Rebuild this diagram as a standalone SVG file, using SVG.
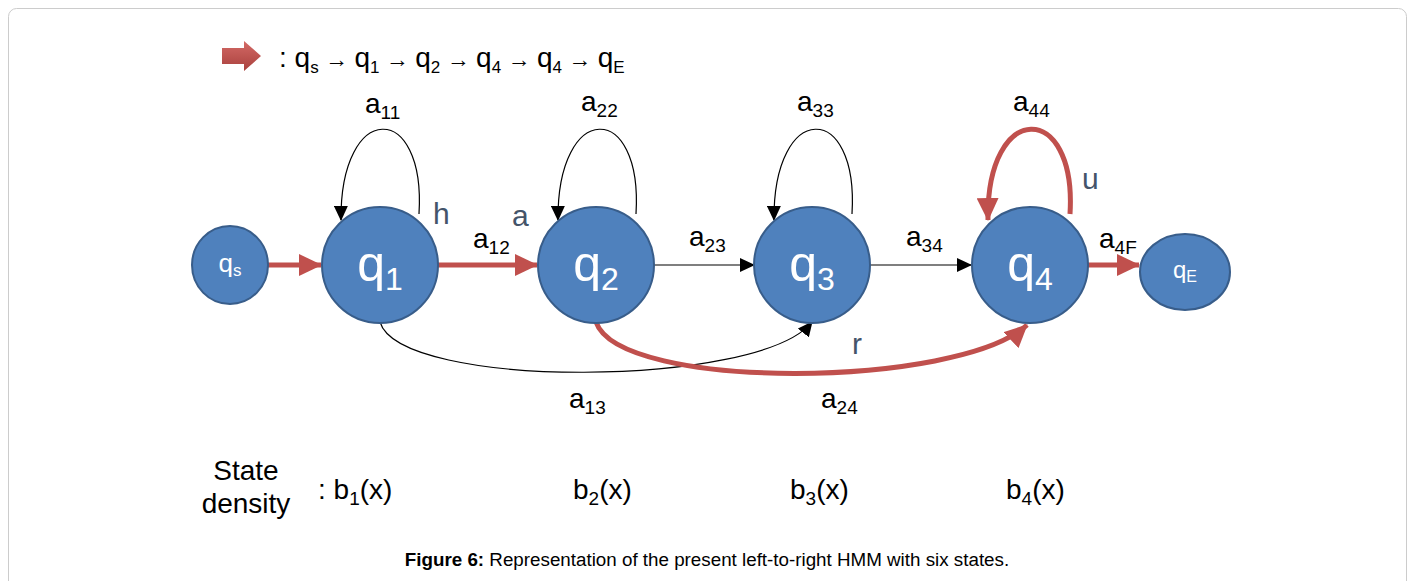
<svg xmlns="http://www.w3.org/2000/svg" width="1415" height="581" viewBox="0 0 1415 581">
<style>
.node{fill:#4F81BD;stroke:#385D8A;stroke-width:2}
.nl{fill:#fff;font-family:"Liberation Sans",Arial,sans-serif;text-anchor:middle}
.lab{fill:#000;font-family:"Liberation Sans",Arial,sans-serif;font-size:28px}
.let{fill:#44546A;font-family:"Liberation Sans",Arial,sans-serif;font-size:30px}
.thin{fill:none;stroke:#000;stroke-width:1.2}
.red{fill:none;stroke:#C0504D;stroke-width:5}
.ar{font-size:23px}
</style>
<defs>
<marker id="ab" markerUnits="userSpaceOnUse" markerWidth="16" markerHeight="14" refX="14" refY="7" orient="auto"><path d="M0,0 L15,7 L0,14 Z" fill="#000"/></marker>
<marker id="ar" markerUnits="userSpaceOnUse" markerWidth="24" markerHeight="22" refX="22" refY="11" orient="auto"><path d="M0,0 L23,11 L0,22 Z" fill="#C0504D"/></marker>
<linearGradient id="rg" x1="0" y1="0" x2="0" y2="1"><stop offset="0" stop-color="#D46A66"/><stop offset="1" stop-color="#A8403D"/></linearGradient>
</defs>
<rect x="8.5" y="8.5" width="1398" height="600" rx="8" fill="#fff" stroke="#CCCCCC" stroke-width="1"/>
<g id="legend">
<path d="M222,48 H244 V41 L261,56 L244,71 V64 H222 Z" fill="url(#rg)"/>
<text class="lab" x="279" y="67" font-size="26">: q<tspan font-size="17" dy="6">s</tspan><tspan dy="-6" class="ar"> → </tspan><tspan>q</tspan><tspan font-size="17" dy="6">1</tspan><tspan dy="-6" class="ar"> → </tspan><tspan>q</tspan><tspan font-size="17" dy="6">2</tspan><tspan dy="-6" class="ar"> → </tspan><tspan>q</tspan><tspan font-size="17" dy="6">4</tspan><tspan dy="-6" class="ar"> → </tspan><tspan>q</tspan><tspan font-size="17" dy="6">4</tspan><tspan dy="-6" class="ar"> → </tspan><tspan>q</tspan><tspan font-size="17" dy="6">E</tspan></text>
</g>
<g id="connectors">
<path class="red" d="M268,265 H321" marker-end="url(#ar)"/>
<path class="red" d="M438,265 H537" marker-end="url(#ar)"/>
<path class="thin" d="M654,265 H754" marker-end="url(#ab)"/>
<path class="thin" d="M870,265 H971" marker-end="url(#ab)"/>
<path class="red" d="M1088,265 H1139" marker-end="url(#ar)"/>
<path class="thin" d="M419,214 C426,100 340,100 341,220" marker-end="url(#ab)"/>
<path class="thin" d="M636,214 C643,100 557,100 558,220" marker-end="url(#ab)"/>
<path class="thin" d="M852,214 C859,100 773,100 774,220" marker-end="url(#ab)"/>
<path class="red" d="M1070,214 C1077,100 986,100 988,220" marker-end="url(#ar)"/>
<path class="thin" d="M380,322 C400,390 760,388 812,322" marker-end="url(#ab)"/>
<path class="red" d="M596,322 C620,392 960,388 1027,325" marker-end="url(#ar)"/>
</g>
<g id="qs"><ellipse class="node" cx="230" cy="265" rx="38" ry="39"/><text class="nl" x="230" y="272" font-size="26">q<tspan font-size="17" dy="4">s</tspan></text></g>
<g id="q1"><circle class="node" cx="380" cy="265" r="58"/><text class="nl" x="380" y="281" font-size="50">q<tspan font-size="32" dy="9">1</tspan></text></g>
<g id="q2"><circle class="node" cx="596" cy="265" r="58"/><text class="nl" x="596" y="281" font-size="50">q<tspan font-size="32" dy="9">2</tspan></text></g>
<g id="q3"><circle class="node" cx="812" cy="265" r="58"/><text class="nl" x="812" y="281" font-size="50">q<tspan font-size="32" dy="9">3</tspan></text></g>
<g id="q4"><circle class="node" cx="1030" cy="265" r="58"/><text class="nl" x="1030" y="281" font-size="50">q<tspan font-size="32" dy="9">4</tspan></text></g>
<g id="qE"><ellipse class="node" cx="1185" cy="272" rx="45" ry="38"/><text class="nl" x="1185" y="278" font-size="24">q<tspan font-size="16" dy="4">E</tspan></text></g>
<g id="labels">
<text class="lab" x="365" y="113">a<tspan font-size="19" dy="6">11</tspan></text>
<text class="lab" x="581" y="111">a<tspan font-size="19" dy="6">22</tspan></text>
<text class="lab" x="797" y="111">a<tspan font-size="19" dy="6">33</tspan></text>
<text class="lab" x="1013" y="111">a<tspan font-size="19" dy="6">44</tspan></text>
<text class="lab" x="473" y="248">a<tspan font-size="19" dy="6">12</tspan></text>
<text class="lab" x="689" y="246">a<tspan font-size="19" dy="6">23</tspan></text>
<text class="lab" x="906" y="246">a<tspan font-size="19" dy="6">34</tspan></text>
<text class="lab" x="1099" y="248">a<tspan font-size="19" dy="6">4F</tspan></text>
<text class="lab" x="569" y="408">a<tspan font-size="19" dy="6">13</tspan></text>
<text class="lab" x="821" y="408">a<tspan font-size="19" dy="6">24</tspan></text>
<text class="let" x="433" y="224">h</text>
<text class="let" x="512" y="226">a</text>
<text class="let" x="1082" y="189">u</text>
<text class="let" x="852" y="354">r</text>
<text class="lab" x="246" y="480" text-anchor="middle" font-size="29">State</text>
<text class="lab" x="246" y="513" text-anchor="middle" font-size="29">density</text>
<text class="lab" x="318" y="499" font-size="29">: b<tspan font-size="19" dy="6">1</tspan><tspan dy="-6">(x)</tspan></text>
<text class="lab" x="573" y="499" font-size="29">b<tspan font-size="19" dy="6">2</tspan><tspan dy="-6">(x)</tspan></text>
<text class="lab" x="790" y="499" font-size="29">b<tspan font-size="19" dy="6">3</tspan><tspan dy="-6">(x)</tspan></text>
<text class="lab" x="1006" y="499" font-size="29">b<tspan font-size="19" dy="6">4</tspan><tspan dy="-6">(x)</tspan></text>
<text x="707" y="566" text-anchor="middle" font-family="'Liberation Sans',Arial,sans-serif" font-size="18.8" fill="#000"><tspan font-weight="bold">Figure 6:</tspan> Representation of the present left-to-right HMM with six states.</text>
</g>
</svg>
